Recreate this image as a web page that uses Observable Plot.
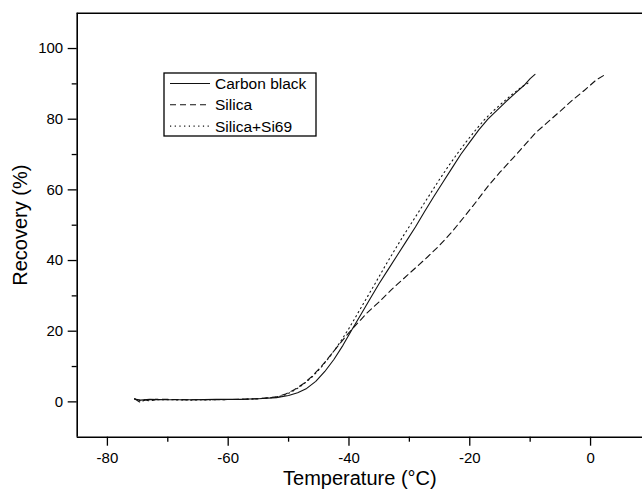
<!DOCTYPE html>
<html><head><meta charset="utf-8">
<script src="https://cdn.jsdelivr.net/npm/d3@7"></script>
<script src="https://cdn.jsdelivr.net/npm/@observablehq/plot@0.6"></script>
<style>
body{margin:0;background:#fff;}
#chart{position:relative;width:642px;height:495px;overflow:hidden;}
</style>
</head><body><div id="chart"></div>
<script>
// ---- data ----
const seriesNames = ["Carbon black", "Silica", "Silica+Si69"];

const carbonT = [-75.5,-74.5,-73,-70,-66,-62,-58,-55,-52,-50,-48.5,-47,-45.5,-44,-42.5,-41,-39.5,-38,-36.5,-35,-33.5,-32,-30.5,-29,-27.5,-26,-24.5,-23,-21.5,-20,-18.5,-17,-15.5,-14,-12.5,-11,-10,-9.2];
const carbonR = [0.8,0.5,0.7,0.6,0.6,0.7,0.7,0.9,1.2,1.8,2.6,3.8,5.8,8.6,12,16,20.5,24.8,29.2,33.5,37.5,41.5,45.5,49.5,53.8,58,62,66,70,73.5,77,80,82.5,85,87.3,89.6,91.5,92.7];

const silicaT = [-75.5,-74.5,-73.8,-73,-72,-70,-66,-62,-58,-55,-52,-50.5,-49,-47.5,-46,-44.5,-43,-41.5,-40,-38.5,-37,-35,-33,-31,-29,-27,-25,-23,-21,-19,-17,-15,-13,-11,-9,-7,-5,-3,-1,1,2.2];
const silicaR = [0.9,-0.2,0.6,0.2,0.7,0.7,0.6,0.6,0.7,0.9,1.4,2.2,3.5,5.2,7.4,10.2,13.3,16.5,19.6,22.4,25.2,28.3,31.7,34.8,37.9,41,44.3,48,52.2,56.5,61,65,68.7,72.5,76.3,79.3,82.3,85.4,88.2,91.2,92.4];

const si69T = [-75.5,-74.5,-73,-70,-66,-62,-58,-55,-52,-50.5,-49,-47.5,-46,-44.5,-43,-41.5,-40,-38.5,-37,-35.5,-34,-32.5,-31,-29.5,-28,-26.5,-25,-23.5,-22,-20.5,-19,-17.5,-16,-14.5,-13,-11.5,-10.2];
const si69R = [0.8,0.3,0.6,0.6,0.5,0.6,0.7,0.9,1.3,2.0,3.3,5.0,7.2,10,13.2,16.8,20.8,25.2,29.6,34,38.5,42.8,47,51,55,59,63,66.8,70.4,73.8,77,80,82.5,84.8,87,89,90.4];

const xMajorTicks = [-80,-60,-40,-20,0];
const xMinorTicks = [-70,-50,-30,-10];
const yMajorTicks = [0,20,40,60,80,100];
const yMinorTicks = [10,30,50,70,90];
const xDomain = [-85, 8.6];
const yDomain = [-10, 110];
const xTitle = "Temperature (°C)";
const yTitle = "Recovery (%)";

// ---- build rows ----
const rows = (T, R, name) => T.map((t, i) => ({T: t, R: R[i], s: name}));
const carbon = rows(carbonT, carbonR, seriesNames[0]);
const silica = rows(silicaT, silicaR, seriesNames[1]);
const si69 = rows(si69T, si69R, seriesNames[2]);

const styles = {
  [seriesNames[0]]: {strokeDasharray: null, strokeWidth: 1.1},
  [seriesNames[1]]: {strokeDasharray: "6,4", strokeWidth: 1.1},
  [seriesNames[2]]: {strokeDasharray: "1.2,3.5", strokeWidth: 1.1}
};

const font = "'Liberation Sans', Arial, sans-serif";
const chart = Plot.plot({
  width: 642, height: 495,
  marginLeft: 76.7, marginRight: 0, marginTop: 12.7, marginBottom: 58.3,
  style: {fontFamily: font, fontSize: "15px", color: "#000", background: "#fff", overflow: "hidden"},
  x: {domain: xDomain},
  y: {domain: yDomain},
  marks: [
    Plot.axisX({ticks: xMajorTicks, tickSize: 9, tickPadding: 6, label: null, fontSize: 15, strokeWidth: 1.3, tickFormat: d => d < 0 ? "-" + Math.abs(d) : String(d)}),
    Plot.axisX({ticks: xMinorTicks, tickSize: 5, text: null, label: null, strokeWidth: 1.3}),
    Plot.axisY({ticks: yMajorTicks, tickSize: 9, tickPadding: 5, label: null, fontSize: 15, strokeWidth: 1.3}),
    Plot.axisY({ticks: yMinorTicks, tickSize: 5, text: null, label: null, strokeWidth: 1.3}),
    Plot.ruleX([xDomain[0]], {strokeWidth: 1.6}),
    Plot.ruleY([yDomain[0], yDomain[1]], {strokeWidth: 1.6}),
    ...[carbon, silica, si69].map(d => Plot.line(d, {x: "T", y: "R", stroke: "#111", ...styles[d[0].s]})),
    Plot.text([xTitle], {frameAnchor: "bottom", dy: 48, fontSize: 20, fontFamily: font, fill: "#000", textAnchor: "middle"}),
    Plot.text([yTitle], {frameAnchor: "left", dx: -57, rotate: -90, fontSize: 20, fontFamily: font, fill: "#000", textAnchor: "middle"})
  ]
});
document.getElementById("chart").appendChild(chart);

// ---- legend box inside the plot ----
const svg = d3.select(chart);
const lg = svg.append("g").attr("transform", "translate(164,73)");
lg.append("rect").attr("width", 152).attr("height", 63).attr("fill", "#fff").attr("stroke", "#000").attr("stroke-width", 1.3);
seriesNames.forEach((name, i) => {
  const y = 10.5 + i * 21.3;
  lg.append("line").attr("x1", 6).attr("x2", 46).attr("y1", y).attr("y2", y)
    .attr("stroke", "#111").attr("stroke-width", 1.1)
    .attr("stroke-dasharray", styles[name].strokeDasharray);
  lg.append("text").attr("x", 51).attr("y", y).attr("dy", "0.35em").attr("text-anchor", "start")
    .attr("font-size", 15.5).attr("font-family", font).attr("fill", "#000").text(name);
});
</script>
</body></html>
